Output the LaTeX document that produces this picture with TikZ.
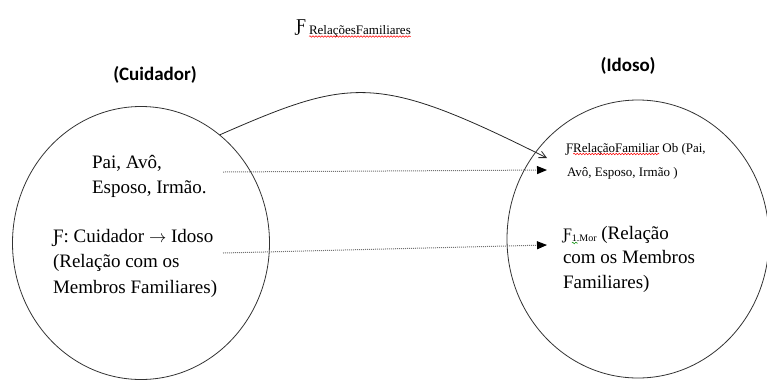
\documentclass[tikz,border=0pt]{standalone}
\usepackage{fontspec}
\setmainfont{Liberation Serif}
\newfontfamily\calibri{Carlito}
\usetikzlibrary{shapes.geometric,arrows.meta,decorations.pathmorphing,positioning}
\tikzset{every node/.style={inner sep=0pt,outer sep=0pt}}
\tikzset{conj/.style={ellipse,draw=black!80,line width=0.8pt}}
\tikzset{rotulo/.style={font=\calibri\bfseries\fontsize{19}{23}\selectfont}}
\tikzset{txt/.style={align=left,font=\fontsize{19}{25.5}\selectfont}}
\tikzset{mini/.style={font=\fontsize{13}{23}\selectfont}}
\tikzset{erro/.style={draw=red,line width=0.5pt,decorate,decoration={snake,amplitude=0.8pt,segment length=3pt}}}
\tikzset{seta/.style={draw=black!85,line width=0.8pt,-{Straight Barb[length=7pt,width=7pt]}}}
\tikzset{pont/.style={draw=black!55,densely dotted,line width=1pt,-{Triangle[length=10pt,width=8pt,color=black]}}}

\begin{document}
\begin{tikzpicture}[x=1pt,y=-1pt]
\useasboundingbox (0,0) rectangle (767,381);
% conjuntos
\node[conj,minimum width=257pt,minimum height=273pt] (cuid) at (141,243) {};
\node[conj,minimum width=262pt,minimum height=278pt] (idoso) at (638,239) {};
\node[rotulo] (lbcuid) at (155,75) {(Cuidador)};
\node[rotulo] (lbidoso) at (628,66) {(Idoso)};
% titulo
\node[anchor=base west,font=\fontsize{18}{18}\selectfont] (tF) at (296,31) {Ƒ};
\node[anchor=base west,mini] (tRel) at (309,34) {RelaçõesFamiliares};
\draw[erro] ([yshift=-2.5pt]tRel.base west) -- ([yshift=-2.5pt]tRel.base east);
% lado esquerdo
\node[txt,anchor=north west] (parentes) at (92,155) {Pai, Avô,\\Esposo, Irmão.};
\node[txt,anchor=north west] (funcao) at (53,229) {Ƒ: Cuidador $\rightarrow$ Idoso\\(Relação com os\\Membros Familiares)};
% lado direito
\node[mini,anchor=base west] (rF) at (566,152) {Ƒ};
\node[mini,anchor=base west] (rNome) at (rF.base east) {RelaçãoFamiliar};
\node[mini,anchor=base west] (rResto) at (rNome.base east) {\ Ob (Pai,};
\node[mini,anchor=base west] (rL2) at (567,176) {Avô, Esposo, Irmão )};
\draw[erro] ([yshift=-2pt]rNome.base west) -- ([yshift=-2pt]rNome.base east);
\node[anchor=base west,font=\fontsize{16}{16}\selectfont] (mF) at (563,239) {Ƒ};
\node[anchor=base west,font=\fontsize{10}{10}\selectfont] (mSub) at ([yshift=-2pt]mF.base east) {1.Mor};
\node[txt,anchor=base west] (mResto) at ([yshift=2pt]mSub.base east) {\ (Relação};
\node[txt,anchor=north west] (membros) at (563,250) {com os Membros\\Familiares)};
\draw[erro,draw=green!55!black] ([yshift=-2pt]mSub.base west) -- ([xshift=6pt,yshift=-2pt]mSub.base west);
% conectores
\coordinate (ini1) at (223,172);
\coordinate (fim1) at (547,170);
\coordinate (ini2) at (223,253);
\coordinate (fim2) at (547,245);
\coordinate (fimC) at (547,158);
\draw[seta] (cuid.54) .. controls (352,77) and (377,73) .. (fimC);
\draw[pont] (ini1) -- (fim1);
\draw[pont] (ini2) -- (fim2);
\end{tikzpicture}
\end{document}
